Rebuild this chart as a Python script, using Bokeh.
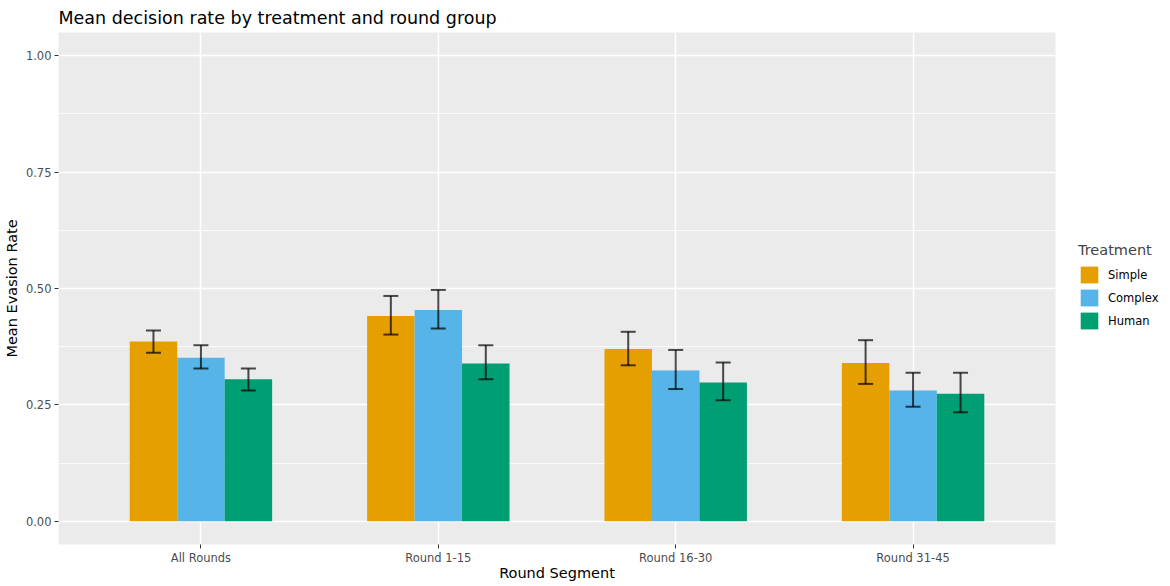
import numpy as np
from bokeh.plotting import figure
from bokeh.models import (ColumnDataSource, FixedTicker, Whisker, TeeHead, Legend, LegendItem)
from bokeh.embed import file_html
from bokeh.resources import INLINE

# ---- data ----
segments = ["All Rounds", "Round 1-15", "Round 16-30", "Round 31-45"]
treatments = ["Simple", "Complex", "Human"]
colors = ["#E69F00", "#56B4E9", "#009E73"]

simple_mean = [0.386, 0.441, 0.370, 0.340]
simple_lo = [0.362, 0.401, 0.335, 0.295]
simple_hi = [0.410, 0.484, 0.407, 0.389]

complex_mean = [0.351, 0.454, 0.324, 0.281]
complex_lo = [0.328, 0.414, 0.284, 0.246]
complex_hi = [0.378, 0.497, 0.368, 0.319]

human_mean = [0.305, 0.339, 0.298, 0.274]
human_lo = [0.281, 0.305, 0.260, 0.234]
human_hi = [0.328, 0.378, 0.341, 0.319]

y_ticks = [0.0, 0.25, 0.5, 0.75, 1.0]
y_tick_labels = ["0.00", "0.25", "0.50", "0.75", "1.00"]
y_minor = [0.125, 0.375, 0.625, 0.875]

means = [simple_mean, complex_mean, human_mean]
los = [simple_lo, complex_lo, human_lo]
his = [simple_hi, complex_hi, human_hi]

FONT = "DejaVu Sans"

p = figure(frame_width=997, frame_height=512, output_backend="svg", toolbar_location=None,
           x_range=(0.4, 4.6), y_range=(-0.05, 1.05),
           min_border_left=58, min_border_right=115, min_border_top=31, min_border_bottom=43,
           title="Mean decision rate by treatment and round group")

p.background_fill_color = "#EBEBEB"
p.border_fill_color = "white"
p.outline_line_color = None

p.title.text_font = FONT
p.title.text_font_size = "17.5px"
p.title.text_font_style = "normal"
p.title.text_color = "black"
p.title.standoff = 10
p.title.offset = 0

group_x = np.arange(1, len(segments) + 1)
offsets = [-0.2, 0.0, 0.2]
bar_w = 0.2

items = []
for i, t in enumerate(treatments):
    src = ColumnDataSource(dict(x=group_x + offsets[i], top=means[i]))
    r = p.vbar(x="x", top="top", bottom=0, width=bar_w, source=src,
               fill_color=colors[i], line_color=None)
    items.append(LegendItem(label=t, renderers=[r]))

for i, t in enumerate(treatments):
    src = ColumnDataSource(dict(x=group_x + offsets[i], lo=los[i], hi=his[i]))
    w = Whisker(base="x", lower="lo", upper="hi", source=src, dimension="height",
                level="overlay",
                line_color="black", line_alpha=0.7, line_width=2,
                upper_head=TeeHead(size=15, line_color="black", line_alpha=0.7, line_width=2),
                lower_head=TeeHead(size=15, line_color="black", line_alpha=0.7, line_width=2))
    p.add_layout(w)

# axes
p.xaxis.ticker = FixedTicker(ticks=list(group_x))
p.xaxis.major_label_overrides = {int(k): s for k, s in zip(group_x, segments)}
p.yaxis.ticker = FixedTicker(ticks=y_ticks, minor_ticks=y_minor)
p.yaxis.major_label_overrides = {k: s for k, s in zip(y_ticks, y_tick_labels)}

for ax in (p.xaxis, p.yaxis):
    ax.axis_line_color = None
    ax.major_tick_line_color = "#333333"
    ax.major_tick_out = 4
    ax.major_tick_in = 0
    ax.minor_tick_line_color = None
    ax.major_label_text_font = FONT
    ax.major_label_text_font_size = "11.5px"
    ax.major_label_text_color = "#4D4D4D"
    ax.major_label_standoff = 3
    ax.axis_label_text_font = FONT
    ax.axis_label_text_font_size = "14.5px"
    ax.axis_label_text_font_style = "normal"
    ax.axis_label_text_color = "black"
    ax.axis_label_standoff = 3

p.xaxis.major_label_standoff = 2
p.xaxis.axis_label_standoff = -3
p.xaxis.axis_label = "Round Segment"
p.yaxis.axis_label = "Mean Evasion Rate"

p.xgrid.grid_line_color = "white"
p.xgrid.grid_line_width = 1.5
p.ygrid.grid_line_color = "white"
p.ygrid.grid_line_width = 1.5
p.ygrid.minor_grid_line_color = "white"
p.ygrid.minor_grid_line_width = 0.8

legend = Legend(items=items, location=(23, 213), title="Treatment",
                title_text_font=FONT, title_text_font_size="14.5px", title_text_font_style="normal",
                title_standoff=6,
                label_text_font=FONT, label_text_font_size="11.5px", label_text_color="black",
                glyph_width=22, glyph_height=21, spacing=2, label_standoff=8,
                padding=0, margin=0, background_fill_alpha=0, border_line_color=None)
p.add_layout(legend, "right")

open("out.html", "w").write(file_html(p, INLINE))
